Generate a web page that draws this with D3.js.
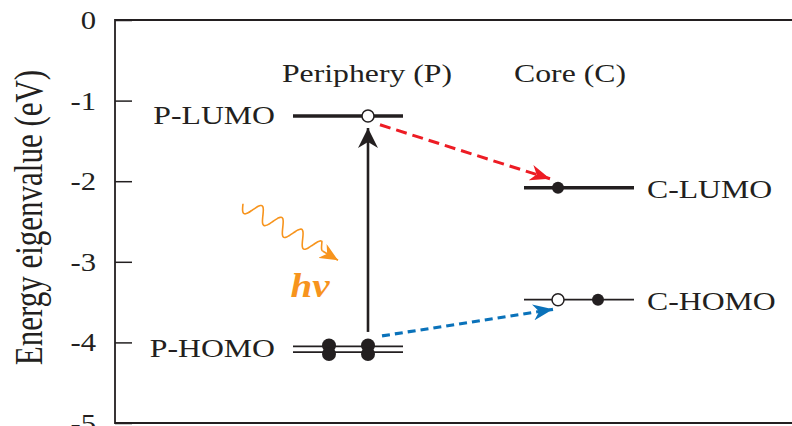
<!DOCTYPE html>
<html>
<head>
<meta charset="utf-8">
<script src="https://cdn.jsdelivr.net/npm/d3@7"></script>
<style>
  body { margin: 0; background: #fff; }
  svg { display: block; }
  text { font-family: "Liberation Serif", "Times New Roman", serif; fill: #231f20; }
</style>
</head>
<body>
<div id="chart"></div>
<script>
// Energy axis ticks (eV)
const yTicks = [0, -1, -2, -3, -4, -5];

// Column extents (in diagram x units) and column titles
const columnNames = ["Periphery (P)", "Core (C)"];
const columnCenters = [2.52, 4.55];
const levelSpanP = [1.78, 2.88];
const levelSpanC = [4.09, 5.19];

// Energy levels
const levelNames = ["P-LUMO", "P-HOMO", "P-HOMO", "C-LUMO", "C-HOMO"];
const levelEnergies = [-1.19, -4.05, -4.12, -2.08, -3.47];
const levelColumn = ["P", "P", "P", "C", "C"];
const levelKind = ["thick", "double", "double", "thick", "thin"];

// Electrons (filled) and holes (open): [x, energy]
const electrons = [[2.14, -4.05], [2.14, -4.12], [2.53, -4.05], [2.53, -4.12], [4.43, -2.08], [4.83, -3.47]];
const holes = [[2.53, -1.19], [4.43, -3.47]];

// Transitions: [x0, e0, x1, e1]
const excitation = [2.53, -3.87, 2.53, -1.34];
const electronTransfer = [2.65, -1.30, 4.35, -1.97];
const holeTransfer = [2.67, -3.92, 4.38, -3.59];
const photon = [1.28, -2.28, 2.23, -2.98];
const photonLabelPos = [1.95, -3.44];

const W = 792, H = 426;
const margin = { top: 20, left: 115 };

const svg = d3.select("#chart").append("svg")
    .attr("width", W)
    .attr("height", H);

const x = d3.scaleLinear().domain([0, 7]).range([margin.left, 815]);
const y = d3.scaleLinear().domain([-5, 0]).range([423, margin.top]);

const SX = 1.27; // glyphs in the source are stretched horizontally

function label(px, py, txt, size, anchor, sx) {
    return svg.append("text")
        .attr("transform", `translate(${px},${py}) scale(${sx || SX},1)`)
        .attr("text-anchor", anchor || "start")
        .style("font-size", size + "px")
        .text(txt);
}

// Frame
svg.append("path")
    .attr("d", `M${x(7)},${y(0)} H${x(0)} V${y(-5)} H${x(7)}`)
    .attr("fill", "none")
    .attr("stroke", "#231f20")
    .attr("stroke-width", 1.8);

// Y axis (inner ticks)
const yAxis = svg.append("g")
    .attr("transform", `translate(${x(0)},0)`)
    .call(d3.axisRight(y).tickValues(yTicks).tickSize(17).tickFormat(""));
yAxis.select(".domain").remove();
yAxis.selectAll("line").attr("stroke", "#231f20").attr("stroke-width", 1.5);

yTicks.forEach(t => {
    label(96, y(t) + 9, String(t), 26, "end", 1.18);
});

// Y axis title
svg.append("text")
    .attr("transform", `translate(42,${(y(0) + y(-5)) / 2 - 4}) rotate(-90) scale(1,1.3)`)
    .attr("text-anchor", "middle")
    .style("font-size", "31px")
    .text("Energy eigenvalue (eV)");

// Column titles
columnNames.forEach((n, i) => {
    label(x(columnCenters[i]), 82, n, 25, "middle");
});

// Arrow markers
const defs = svg.append("defs");
function marker(id, color, len, half) {
    defs.append("marker")
        .attr("id", id)
        .attr("viewBox", `${-len} ${-half} ${len} ${half * 2}`)
        .attr("refX", 0).attr("refY", 0)
        .attr("markerUnits", "userSpaceOnUse")
        .attr("markerWidth", len)
        .attr("markerHeight", half * 2)
        .attr("orient", "auto")
        .append("path")
        .attr("d", `M0,0 L${-len},${-half} L${-len * 0.7},0 L${-len},${half} Z`)
        .attr("fill", color);
}
marker("arrBlack", "#231f20", 20, 10);
marker("arrRed", "#ed1c24", 20, 8);
marker("arrBlue", "#0a72ba", 20, 8);
marker("arrOrange", "#f7941d", 18, 8);

// Energy levels
levelNames.forEach((n, i) => {
    const span = levelColumn[i] === "P" ? levelSpanP : levelSpanC;
    const k = levelKind[i];
    svg.append("line")
        .attr("x1", x(span[0])).attr("x2", x(span[1]))
        .attr("y1", y(levelEnergies[i])).attr("y2", y(levelEnergies[i]))
        .attr("stroke", "#231f20")
        .attr("stroke-width", k === "thick" ? 3.5 : 1.8);
});

// Level names (one per unique level)
const shown = new Set();
levelNames.forEach((n, i) => {
    if (shown.has(n)) return;
    shown.add(n);
    const e = levelEnergies.filter((v, j) => levelNames[j] === n);
    const ey = y(d3.mean(e)) + 8;
    if (levelColumn[i] === "P") label(x(1.60), ey, n, 25, "end");
    else label(x(5.32), ey + 2, n, 25, "start");
});

// Transitions
function arrow(t, color, mk, width, dash) {
    svg.append("line")
        .attr("x1", x(t[0])).attr("y1", y(t[1]))
        .attr("x2", x(t[2])).attr("y2", y(t[3]))
        .attr("stroke", color)
        .attr("stroke-width", width)
        .attr("stroke-dasharray", dash)
        .attr("marker-end", `url(#${mk})`);
}
arrow(excitation, "#231f20", "arrBlack", 2.6, null);
arrow(electronTransfer, "#ed1c24", "arrRed", 3, "11,6");
arrow(holeTransfer, "#0a72ba", "arrBlue", 3.2, "8,5");

// Photon (wavy arrow)
const p0 = [x(photon[0]), y(photon[1])], p1 = [x(photon[2]), y(photon[3])];
const dx = p1[0] - p0[0], dy = p1[1] - p0[1];
const len = Math.hypot(dx, dy), ux = dx / len, uy = dy / len;
const bodyLen = len - 18;
const wave = d3.range(0, 101).map(i => {
    const s = bodyLen * i / 100;
    const a = 8 * Math.sin(2 * Math.PI * 4 * i / 100) * Math.min(1, (100 - i) / 6);
    return [p0[0] + ux * s - uy * a, p0[1] + uy * s + ux * a];
});
svg.append("path")
    .attr("d", d3.line().curve(d3.curveCatmullRom)(wave))
    .attr("fill", "none")
    .attr("stroke", "#f7941d")
    .attr("stroke-width", 1.6);
svg.append("line")
    .attr("x1", wave[100][0]).attr("y1", wave[100][1])
    .attr("x2", p1[0]).attr("y2", p1[1])
    .attr("stroke", "#f7941d")
    .attr("stroke-width", 1.6)
    .attr("marker-end", "url(#arrOrange)");

svg.append("text")
    .attr("transform", `translate(${x(photonLabelPos[0])},${y(photonLabelPos[1])}) scale(1.15,1)`)
    .attr("text-anchor", "middle")
    .style("font-size", "34px")
    .style("font-style", "italic")
    .style("font-weight", "bold")
    .style("fill", "#f7941d")
    .text("hν");

// Electrons and holes
svg.selectAll(".electron").data(electrons).enter().append("circle")
    .attr("class", "electron")
    .attr("cx", d => x(d[0]))
    .attr("cy", d => y(d[1]) + (d[1] < -4.1 ? 2 : d[1] < -4 ? -1 : 0))
    .attr("r", d => d[1] < -4 ? 7 : 6)
    .attr("fill", "#231f20");

svg.selectAll(".hole").data(holes).enter().append("circle")
    .attr("class", "hole")
    .attr("cx", d => x(d[0]))
    .attr("cy", d => y(d[1]))
    .attr("r", 6)
    .attr("fill", "#fff")
    .attr("stroke", "#231f20")
    .attr("stroke-width", 1.5);
</script>
</body>
</html>
